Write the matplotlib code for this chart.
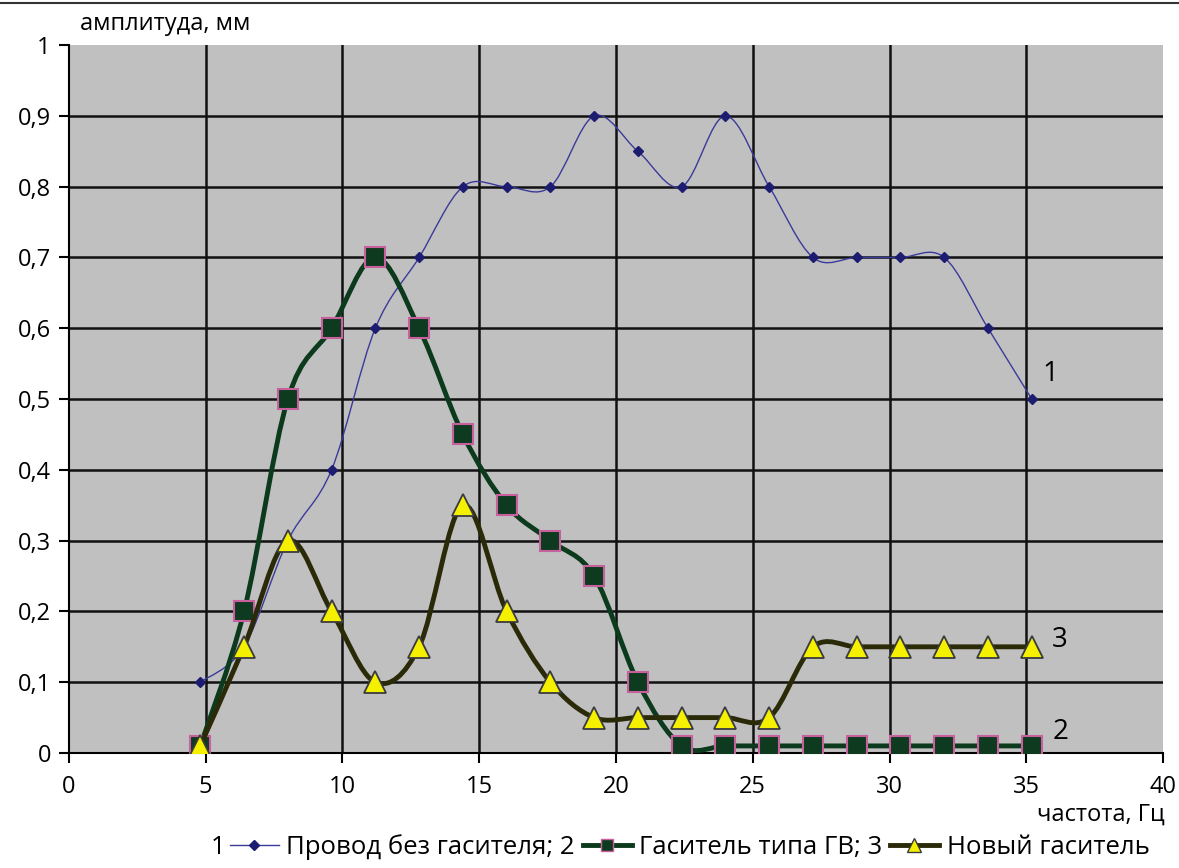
import numpy as np
import matplotlib.pyplot as plt
from matplotlib.path import Path
from matplotlib.patches import PathPatch
from matplotlib.lines import Line2D

plt.rcParams['font.family'] = ['Open Sans', 'DejaVu Sans']

# frequency, Hz
freq = [4.8, 6.4, 8.0, 9.6, 11.2, 12.8, 14.4, 16.0, 17.6, 19.2,
        20.8, 22.4, 24.0, 25.6, 27.2, 28.8, 30.4, 32.0, 33.6, 35.2]
# amplitude, mm
wire_bare = [0.1, 0.15, 0.3, 0.4, 0.6, 0.7, 0.8, 0.8, 0.8, 0.9,
             0.85, 0.8, 0.9, 0.8, 0.7, 0.7, 0.7, 0.7, 0.6, 0.5]
damper_gv = [0.01, 0.2, 0.5, 0.6, 0.7, 0.6, 0.45, 0.35, 0.3, 0.25,
             0.1, 0.01, 0.01, 0.01, 0.01, 0.01, 0.01, 0.01, 0.01, 0.01]
damper_new = [0.01, 0.15, 0.3, 0.2, 0.1, 0.15, 0.35, 0.2, 0.1, 0.05,
              0.05, 0.05, 0.05, 0.05, 0.15, 0.15, 0.15, 0.15, 0.15, 0.15]

ytick_vals = [0, 0.1, 0.2, 0.3, 0.4, 0.5, 0.6, 0.7, 0.8, 0.9, 1]
ytick_text = ['0', '0,1', '0,2', '0,3', '0,4', '0,5', '0,6', '0,7', '0,8', '0,9', '1']
xtick_vals = [0, 5, 10, 15, 20, 25, 30, 35, 40]
legend_labels = ['Провод без гасителя; 2', 'Гаситель типа ГВ; 3', 'Новый гаситель']


def smooth_path(x, y):
    # excel-like smoothed line as a bezier path through the points
    pts = np.column_stack([np.asarray(x, float), np.asarray(y, float)])
    verts = [pts[0]]
    codes = [Path.MOVETO]
    n = len(pts)
    for i in range(n - 1):
        p0 = pts[max(i - 1, 0)]
        p1 = pts[i]
        p2 = pts[i + 1]
        p3 = pts[min(i + 2, n - 1)]
        verts += [p1 + (p2 - p0) / 6, p2 - (p3 - p1) / 6, p2]
        codes += [Path.CURVE4] * 3
    return Path(verts, codes)


fig = plt.figure(figsize=(11.79, 8.68), dpi=100)
ax = fig.add_axes([0.0585, 0.1325, 0.928, 0.8155])
ax.set_facecolor('#c0c0c0')

c1 = '#3a3a9a'
c2 = '#0c3a1c'
c3 = '#2a2a08'

ax.add_patch(PathPatch(smooth_path(freq, wire_bare), fill=False, ec=c1, lw=1.0, zorder=3))
ax.plot(freq, wire_bare, ls='none', marker='D', ms=5, color='#1c1c70', zorder=3)

ax.add_patch(PathPatch(smooth_path(freq, damper_gv), fill=False, ec=c2, lw=3.5, zorder=4))
ax.plot(freq, damper_gv, ls='none', marker='s', ms=14, mfc='#0e3a20', mec='#c8609e', mew=1.5, zorder=4)

ax.add_patch(PathPatch(smooth_path(freq, damper_new), fill=False, ec=c3, lw=3.5, zorder=5))
ax.plot(freq, damper_new, ls='none', marker='^', ms=16, mfc='#f4f000', mec='#3a3a40', mew=1.3, zorder=5)

ax.set_xlim(0, 40)
ax.set_ylim(0, 1)
ax.set_xticks(xtick_vals)
ax.set_yticks(ytick_vals)
ax.set_yticklabels(ytick_text)
ax.tick_params(labelsize=17, length=7, width=1.5, color='black', pad=6)
ax.tick_params(axis='x', pad=9)
ax.grid(color='#111111', lw=1.8)
ax.get_ygridlines()[-1].set_visible(False)
ax.get_xgridlines()[-1].set_visible(False)
ax.get_xgridlines()[0].set_visible(False)
ax.set_axisbelow(True)
for s in ['top', 'right']:
    ax.spines[s].set_visible(False)
for s in ['left', 'bottom']:
    ax.spines[s].set_linewidth(1.5)

# curve numbers at the right end
ax.text(35.6, 0.525, '1', fontsize=20)
ax.text(35.95, 0.15, '3', fontsize=20)
ax.text(35.95, 0.02, '2', fontsize=20)

fig.text(0.068, 0.972, 'амплитуда, мм', fontsize=17, va='center')
fig.text(0.988, 0.062, 'частота, Гц', fontsize=17, ha='right', va='center')

handles = [
    Line2D([], [], color=c1, lw=1.0, marker='D', ms=5, mfc='#1c1c70', mec='#1c1c70'),
    Line2D([], [], color=c2, lw=3.5, marker='s', ms=9, mfc='#0e3a20', mec='#c8609e'),
    Line2D([], [], color=c3, lw=3.5, marker='^', ms=10, mfc='#f4f000', mec='#3a3a40'),
]
leg = fig.legend(handles, legend_labels, loc='center', bbox_to_anchor=(0.585, 0.024), ncol=3,
                 frameon=False, fontsize=18.5, handlelength=1.9, handletextpad=0.3,
                 columnspacing=0.3, borderpad=0)
fig.canvas.draw()
bb = leg.get_window_extent().transformed(fig.transFigure.inverted())
fig.text(bb.x0 - 0.004, 0.024, '1', fontsize=18.5, ha='right', va='center')

fig.add_artist(Line2D([0, 1], [0.996, 0.996], color='#333333', lw=1.5, transform=fig.transFigure))

fig.savefig('out.png', dpi=100)
